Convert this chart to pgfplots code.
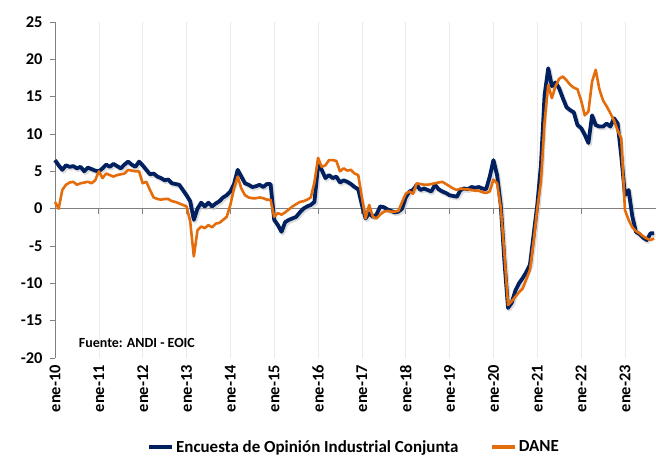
\documentclass[border=0pt]{standalone}
\usepackage{pgfplots}
\pgfplotsset{compat=1.18}
\usepackage{pgfplotstable}
\usepackage{fontspec}
\setmainfont{Carlito}
\definecolor{navy}{RGB}{0,32,96}
\definecolor{dorange}{RGB}{228,108,10}
\definecolor{axgray}{RGB}{128,128,128}
\pgfplotstableread{
x e d
0 6.5 0.9
1 5.8 0.0
2 5.2 2.5
3 5.8 3.2
4 5.6 3.5
5 5.7 3.6
6 5.4 3.2
7 5.6 3.4
8 5.0 3.5
9 5.5 3.6
10 5.3 3.4
11 5.1 3.8
12 5.0 5.0
13 5.4 4.1
14 5.9 4.7
15 5.6 4.5
16 6.0 4.3
17 5.7 4.5
18 5.4 4.6
19 5.9 4.7
20 6.3 5.2
21 5.9 5.1
22 5.6 5.0
23 6.3 5.0
24 5.8 3.4
25 5.2 3.6
26 4.6 2.5
27 4.7 1.5
28 4.3 1.3
29 4.1 1.2
30 3.8 1.3
31 3.9 1.3
32 3.4 1.0
33 3.3 0.9
34 3.2 0.7
35 2.5 0.5
36 1.8 0.3
37 1.0 -1.7
38 -1.5 -6.4
39 0.0 -2.9
40 0.8 -2.4
41 0.3 -2.6
42 0.8 -2.2
43 0.3 -2.5
44 0.7 -2.0
45 1.0 -1.9
46 1.5 -1.5
47 1.8 -1.1
48 2.3 0.5
49 3.3 2.7
50 5.2 4.3
51 4.3 2.7
52 3.4 1.8
53 3.2 1.5
54 2.9 1.4
55 3.0 1.4
56 3.2 1.5
57 2.9 1.4
58 3.3 1.2
59 3.3 1.2
60 -1.5 -1.1
61 -2.2 -0.6
62 -3.1 -0.8
63 -1.8 -0.5
64 -1.5 -0.1
65 -1.3 0.3
66 -1.1 0.6
67 -0.5 0.9
68 0.0 1.0
69 0.3 1.2
70 0.5 1.5
71 0.9 3.5
72 5.8 6.8
73 5.2 5.6
74 4.1 5.8
75 4.5 6.5
76 4.1 6.5
77 4.3 6.4
78 3.5 5.0
79 3.8 5.4
80 3.6 5.1
81 3.3 5.2
82 2.9 4.7
83 2.6 4.5
84 0.5 1.5
85 -1.3 -1.3
86 -0.6 0.5
87 -1.1 -1.1
88 -0.8 -1.3
89 0.3 -0.8
90 0.2 -0.4
91 -0.1 -0.3
92 -0.3 -0.4
93 -0.5 -0.4
94 -0.4 -0.3
95 0.0 0.9
96 1.5 2.0
97 2.3 2.3
98 2.5 2.0
99 3.2 3.4
100 2.5 3.3
101 2.7 3.2
102 2.5 3.2
103 2.3 3.3
104 3.2 3.4
105 2.6 3.5
106 2.3 3.6
107 2.1 3.3
108 1.8 3.0
109 1.7 2.7
110 1.6 2.5
111 2.5 2.7
112 2.7 2.6
113 2.6 2.6
114 2.9 2.5
115 2.8 2.4
116 2.9 2.4
117 2.7 2.2
118 2.6 2.1
119 4.3 2.3
120 6.5 3.9
121 4.5 3.4
122 0.5 0.2
123 -7.0 -6.0
124 -13.3 -12.9
125 -12.6 -12.4
126 -11.0 -11.8
127 -10.0 -11.2
128 -9.3 -10.7
129 -8.5 -9.5
130 -7.5 -8.2
131 -3.5 -4.4
132 0.5 0.0
133 5.8 3.6
134 15.2 11.6
135 18.8 16.6
136 16.4 14.8
137 16.9 16.4
138 16.1 17.4
139 14.8 17.7
140 13.6 17.2
141 13.2 16.6
142 12.9 16.2
143 11.2 16.0
144 10.8 14.5
145 9.9 12.5
146 8.8 13.0
147 12.5 17.0
148 11.2 18.6
149 11.0 16.0
150 11.0 14.5
151 11.4 13.7
152 11.0 12.8
153 12.1 11.8
154 11.4 10.5
155 7.0 9.4
156 1.8 -0.2
157 2.5 -1.5
158 -1.0 -2.5
159 -3.1 -3.0
160 -3.4 -3.3
161 -3.9 -3.7
162 -4.2 -4.0
163 -3.3 -4.2
164 -3.3 -4.0
}\datatable
\begin{document}
\begin{tikzpicture}
\path[use as bounding box] (-55bp,-100bp) rectangle (601bp,358bp);
\begin{axis}[
  at={(0,0)}, anchor=south west,
  width=601bp, height=336bp, scale only axis,
  xmin=0, xmax=164.5, ymin=-20, ymax=25,
  axis x line=middle, axis y line=left,
  hide obscured x ticks=false, hide obscured y ticks=false,
  axis line style={-, draw=axgray, line width=0.9bp},
  ytick={-20,-15,...,25},
  xtick={0,12,...,156},
  xticklabels={ene-10,ene-11,ene-12,ene-13,ene-14,ene-15,ene-16,ene-17,ene-18,ene-19,ene-20,ene-21,ene-22,ene-23},
  xtick align=outside, ytick align=outside,
  major tick length=5bp,
  tick style={draw=axgray, line width=0.8bp},
  xmajorgrids, major grid style={draw=blue!4!gray!15, line width=0.6bp},
  /pgf/number format/assume math mode=true,
  tick label style={font=\bfseries\fontsize{16.5}{16.5}\selectfont, text=black},
  yticklabel shift=4bp,
  xticklabel shift=148bp,
  xticklabel style={rotate=90, anchor=east},
  legend style={at={(0.498,-0.265)}, anchor=center, draw=none, fill=none,
    font=\bfseries\fontsize{17}{17}\selectfont, legend columns=2,
    /tikz/every even column/.append style={column sep=30bp}},
  legend image code/.code={\draw[#1, line width=3.5bp] (0bp,0bp) -- (23bp,0bp);},
  clip=false,
]
\addplot[forget plot, color=gray!45, opacity=0.6, line width=4.5bp, line join=round,
  transform canvas={xshift=1.2bp, yshift=-1.6bp}] table[x=x, y=e]{\datatable};
\addplot[color=navy, line width=3.8bp, line join=round] table[x=x, y=e]{\datatable};
\addplot[color=dorange, line width=2.6bp, line join=round] table[x=x, y=d]{\datatable};
\legend{Encuesta de Opinión Industrial Conjunta, DANE}
\node[anchor=west, font=\bfseries\fontsize{14}{15}\selectfont] at (axis cs:5.6,-18) {Fuente: ANDI - EOIC};
\end{axis}
\end{tikzpicture}
\end{document}
